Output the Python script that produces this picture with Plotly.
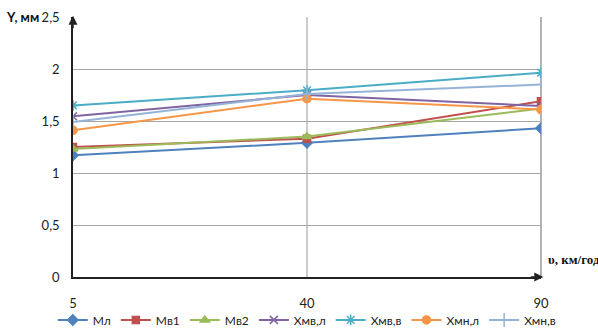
import plotly.graph_objects as go

# Speed categories (km/h) and measured values Y, mm
speeds = ["5", "40", "90"]

ml = [1.17, 1.29, 1.43]
mv1 = [1.25, 1.33, 1.69]
mv2 = [1.23, 1.35, 1.62]
xmv_l = [1.545, 1.75, 1.645]
xmv_v = [1.65, 1.795, 1.965]
xmn_l = [1.41, 1.715, 1.61]
xmn_v = [1.49, 1.76, 1.85]

y_ticks = [0, 0.5, 1, 1.5, 2, 2.5]
y_tick_text = ["0", "0,5", "1", "1,5", "2", "2,5"]

series = [
    ("Мл", ml, "#4F81BD", "diamond", 8),
    ("Мв1", mv1, "#C0504D", "square", 7),
    ("Мв2", mv2, "#9BBB59", "triangle-up", 8),
    ("Хмв,л", xmv_l, "#8064A2", "x-thin-open", 8),
    ("Хмв,в", xmv_v, "#4BACC6", "asterisk-open", 9),
    ("Хмн,л", xmn_l, "#F79646", "circle", 8),
    ("Хмн,в", xmn_v, "#95B3D7", "line-ns-open", 10),
]

W, H = 598, 332
font_main = "Lato, Liberation Sans, sans-serif"

fig = go.Figure()
for name, vals, color, sym, size in series:
    fig.add_trace(go.Scatter(
        x=speeds, y=vals, name=name, mode="lines+markers",
        line=dict(color=color, width=2),
        marker=dict(symbol=sym, size=size, color=color,
                    line=dict(color=color, width=1.5)),
    ))

fig.update_layout(
    width=W, height=H,
    # full-width paper so the one-row legend has room; the axes sit in a domain
    margin=dict(l=0, r=0, t=17, b=55, autoexpand=False),
    paper_bgcolor="white", plot_bgcolor="white",
    font=dict(family=font_main, size=13, color="#222"),
    showlegend=True,
    legend=dict(orientation="h", x=0.513, xanchor="center",
                y=-0.165, yanchor="middle", bgcolor="rgba(0,0,0,0)",
                font=dict(family=font_main, size=12, color="#222"),
                itemwidth=30, tracegroupgap=0),
    xaxis=dict(
        type="category", range=[0, 2], domain=[73 / W, 541 / W],
        showgrid=True, gridcolor="#CCCCCC", gridwidth=1.5,
        showline=True, linecolor="#222", linewidth=1.5,
        mirror=False, ticks="", tickfont=dict(size=13),
        ticklabelstandoff=14, zeroline=False,
    ),
    yaxis=dict(
        range=[0, 2.5], tickvals=y_ticks, ticktext=y_tick_text,
        showgrid=True, gridcolor="#A6A6A6", gridwidth=1.2,
        showline=True, linecolor="#222", linewidth=1.5,
        ticks="", ticklabelstandoff=9, zeroline=False,
    ),
)

# Right-hand border of the plot area
fig.add_shape(type="line", xref="x domain", yref="y domain", x0=1, x1=1, y0=0, y1=1,
              line=dict(color="#999999", width=1.5), layer="below")

# Axis arrowheads
fig.add_annotation(xref="x domain", yref="y domain", x=1.005, y=0, ax=-14, ay=0,
                   axref="pixel", ayref="pixel", showarrow=True, arrowhead=2,
                   arrowsize=1.2, arrowwidth=1.5, arrowcolor="#222", text="")
fig.add_annotation(xref="x domain", yref="y domain", x=0, y=1.005, ax=0, ay=14,
                   axref="pixel", ayref="pixel", showarrow=True, arrowhead=2,
                   arrowsize=1.2, arrowwidth=1.5, arrowcolor="#222", text="")

# Axis titles
fig.add_annotation(xref="x domain", yref="y domain", x=1.01, y=0.03, xanchor="left",
                   yanchor="bottom", showarrow=False, text="<b>υ, км/год</b>",
                   font=dict(family="Liberation Serif, DejaVu Serif, serif", size=13, color="#111"))
fig.add_annotation(xref="paper", yref="y domain", x=4 / W, y=1.0, xanchor="left",
                   yanchor="middle", showarrow=False, text="<b>Y, мм</b>",
                   font=dict(family=font_main, size=13, color="#111"))

fig.write_html("out.html")
